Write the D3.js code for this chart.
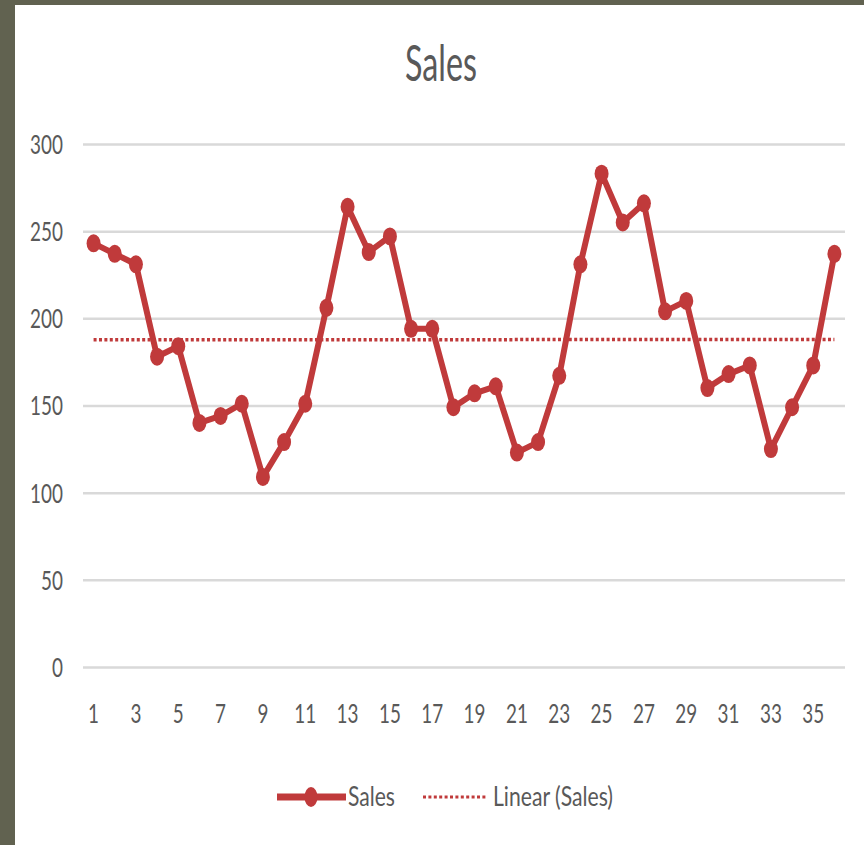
<!DOCTYPE html>
<html><head><meta charset="utf-8">
<script src="https://cdn.jsdelivr.net/npm/d3@7"></script>
<style>
html,body{margin:0;padding:0;background:#616250;}
svg{display:block;}
</style></head>
<body>
<script>
const categories = d3.range(1, 37);
const salesValues = [243,237,231,178,184,140,144,151,109,129,151,206,264,238,247,194,194,149,157,161,123,129,167,231,283,255,266,204,210,160,168,173,125,149,173,237];
const yTicks = [0,50,100,150,200,250,300];
const xTickLabels = categories.filter(d => d % 2 === 1);
const seriesName = "Sales";
const trendName = "Linear (Sales)";

const W = 864, H = 845;
const red = "#c03a3b", txt = "#595959", grid = "#d9d9d9";
const svg = d3.select("body").append("svg").attr("width", W).attr("height", H);
svg.append("rect").attr("x", 15).attr("y", 5).attr("width", W - 15).attr("height", H - 5).attr("fill", "#ffffff");

const plot = {left: 83, right: 845, top: 144, bottom: 667};
const x = d3.scaleBand().domain(categories).range([plot.left, plot.right]);
const cx = d => x(d) + x.bandwidth() / 2;
const y = d3.scaleLinear().domain([0, 300]).range([plot.bottom, plot.top]);

// Title
svg.append("text").attr("x", 441).attr("y", 81).attr("text-anchor", "middle")
  .attr("font-family", "Lato").attr("font-size", 51).attr("fill", txt)
  .attr("textLength", 72).attr("lengthAdjust", "spacingAndGlyphs").text("Sales");

// Y axis with gridlines
const sx = 0.7;
const fs = 27;
const yAxis = svg.append("g").attr("transform", `translate(${plot.left},0)`)
  .call(d3.axisLeft(y).tickValues(yTicks).tickSize(-(plot.right - plot.left)).tickPadding(0));
yAxis.select(".domain").remove();
yAxis.selectAll(".tick line").attr("stroke", grid).attr("stroke-width", 2.5);
yAxis.selectAll(".tick text").attr("font-family", "Lato").attr("font-size", fs).attr("fill", txt)
  .attr("transform", `scale(${sx},1)`).attr("x", -20 / sx).attr("dy", "0.35em");

// X axis
const xAxis = svg.append("g").attr("transform", `translate(0,${plot.bottom})`)
  .call(d3.axisBottom(x).tickValues(xTickLabels).tickSize(0).tickPadding(0));
xAxis.select(".domain").remove();
xAxis.selectAll(".tick text").attr("font-family", "Lato").attr("font-size", fs).attr("fill", txt)
  .attr("transform", `scale(${sx},1)`).attr("y", 47).attr("dy", "0.35em")
  .attr("text-anchor", "middle");

// Trend line (least squares)
const n = salesValues.length;
const xs = categories, ys = salesValues;
const mx = d3.mean(xs), my = d3.mean(ys);
const slope = d3.sum(xs.map((v, i) => (v - mx) * (ys[i] - my))) / d3.sum(xs.map(v => (v - mx) ** 2));
const intercept = my - slope * mx;
const trend = [categories[0], categories[n - 1]].map(c => ({c, v: intercept + slope * c}));
svg.append("path").datum(trend)
  .attr("d", d3.line().x(d => cx(d.c)).y(d => y(d.v)))
  .attr("fill", "none").attr("stroke", red).attr("stroke-width", 3.5).attr("stroke-dasharray", "3,2.4");

// Sales line
const data = categories.map((c, i) => ({c, v: salesValues[i]}));
svg.append("path").datum(data)
  .attr("d", d3.line().x(d => cx(d.c)).y(d => y(d.v)))
  .attr("fill", "none").attr("stroke", red).attr("stroke-width", 6).attr("stroke-linejoin", "round");
svg.append("g").selectAll("ellipse").data(data).join("ellipse")
  .attr("cx", d => cx(d.c)).attr("cy", d => y(d.v)).attr("rx", 7).attr("ry", 9).attr("fill", red);

// Legend
const ly = 797;
const lg = svg.append("g");
lg.append("line").attr("x1", 277).attr("x2", 346).attr("y1", ly).attr("y2", ly).attr("stroke", red).attr("stroke-width", 7);
lg.append("ellipse").attr("cx", 311).attr("cy", ly).attr("rx", 6.5).attr("ry", 10).attr("fill", red);
lg.append("text").attr("x", 348).attr("y", ly).attr("dy", "0.35em").attr("font-family", "Lato").attr("font-size", 27)
  .attr("fill", txt).attr("textLength", 47).attr("lengthAdjust", "spacingAndGlyphs").text(seriesName);
lg.append("line").attr("x1", 423).attr("x2", 486).attr("y1", ly).attr("y2", ly).attr("stroke", red)
  .attr("stroke-width", 3).attr("stroke-dasharray", "3,2.4");
lg.append("text").attr("x", 493).attr("y", ly).attr("dy", "0.35em").attr("font-family", "Lato").attr("font-size", 27)
  .attr("fill", txt).attr("textLength", 120).attr("lengthAdjust", "spacingAndGlyphs").text(trendName);
</script>
</body></html>
